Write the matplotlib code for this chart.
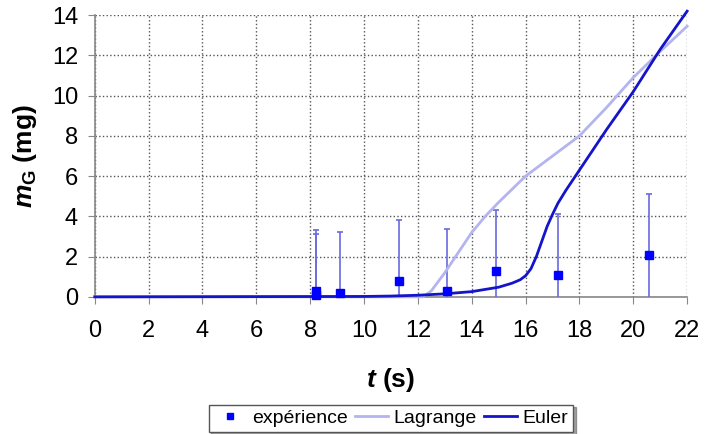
import matplotlib
matplotlib.use("Agg")
import matplotlib.pyplot as plt

plt.rcParams['font.family'] = ['Liberation Sans', 'DejaVu Sans']
plt.rcParams['mathtext.fontset'] = 'custom'
plt.rcParams['mathtext.it'] = 'Liberation Sans:italic:bold'
plt.rcParams['mathtext.rm'] = 'Liberation Sans:bold'
plt.rcParams['mathtext.bf'] = 'Liberation Sans:bold'

# experimental points (t in s, m_G in mg) with +-3 mg error bars
exp_t = [8.2, 8.2, 9.1, 11.3, 13.1, 14.9, 17.2, 20.6]
exp_m = [0.3, 0.1, 0.2, 0.8, 0.3, 1.3, 1.1, 2.1]
exp_err = [3.0, 3.0, 3.0, 3.0, 3.05, 3.0, 3.0, 3.0]

# Lagrange model
lag_t = [0, 12.2, 12.5, 13.0, 13.5, 14.0, 14.5, 15.0, 16.0, 17.0, 18.0, 19.0, 20.0, 21.0, 22.0]
lag_m = [0, 0, 0.3, 1.2, 2.2, 3.2, 4.0, 4.7, 6.0, 7.0, 8.0, 9.4, 10.9, 12.2, 13.45]

# Euler model
eul_t = [0, 10, 11, 12, 13, 14, 15, 15.5, 15.8, 16.0, 16.2, 16.4, 16.6, 16.8, 17.0,
         17.2, 17.5, 18, 18.5, 19, 20, 21, 22]
eul_m = [0, 0.02, 0.04, 0.08, 0.15, 0.26, 0.48, 0.68, 0.85, 1.05, 1.4, 2.0, 2.75, 3.5, 4.1,
         4.65, 5.3, 6.3, 7.3, 8.3, 10.2, 12.3, 14.2]

x_ticks = list(range(0, 23, 2))
y_ticks = list(range(0, 15, 2))

fig = plt.figure(figsize=(7.18, 4.34), dpi=100)
ax = fig.add_axes([0.132, 0.316, 0.825, 0.649])

ax.errorbar(exp_t, exp_m, yerr=exp_err, fmt='none', ecolor='#6a6ae0',
            elinewidth=1.2, capsize=2.5, capthick=1.2, zorder=3)
ax.plot(lag_t, lag_m, color='#b4b4f0', lw=2, label='Lagrange', zorder=4, clip_on=False)
ax.plot(eul_t, eul_m, color='#1414c8', lw=2, label='Euler', zorder=5, clip_on=False)
ax.plot(exp_t, exp_m, 's', color='#0000ff', ms=5.5, ls='none', label='expérience',
        zorder=6, clip_on=False)

ax.set_xlim(0, 22)
ax.set_ylim(0, 14)
ax.set_xticks(x_ticks)
ax.set_yticks(y_ticks)
ax.tick_params(labelsize=17, length=5, color='#888888', direction='out')
ax.tick_params(axis='x', pad=12)
ax.tick_params(axis='y', pad=7)
ax.grid(True, linestyle=':', color='#555555', linewidth=1)
for s in ['top', 'right']:
    ax.spines[s].set_visible(False)
for s in ['left', 'bottom']:
    ax.spines[s].set_color('#888888')
    ax.spines[s].set_linewidth(1.2)

ax.set_xlabel(r'$t$ (s)', fontsize=19, fontweight='bold')
ax.set_ylabel(r'$m_{\mathrm{G}}$ (mg)', fontsize=19, fontweight='bold')
ax.xaxis.set_label_coords(0.5, -0.245)
ax.yaxis.set_label_coords(-0.095, 0.5)

h, l = ax.get_legend_handles_labels()
order = [2, 0, 1]
leg = fig.legend([h[i] for i in order], [l[i] for i in order], loc='center',
                 bbox_to_anchor=(391 / 718, 0.036), ncol=3, fontsize=14,
                 frameon=True, fancybox=False, shadow=True, edgecolor='#555555',
                 handlelength=1.7, handletextpad=0.3, columnspacing=0.35,
                 borderpad=0.25, markerscale=0.9)

fig.savefig('out.png', dpi=100)
